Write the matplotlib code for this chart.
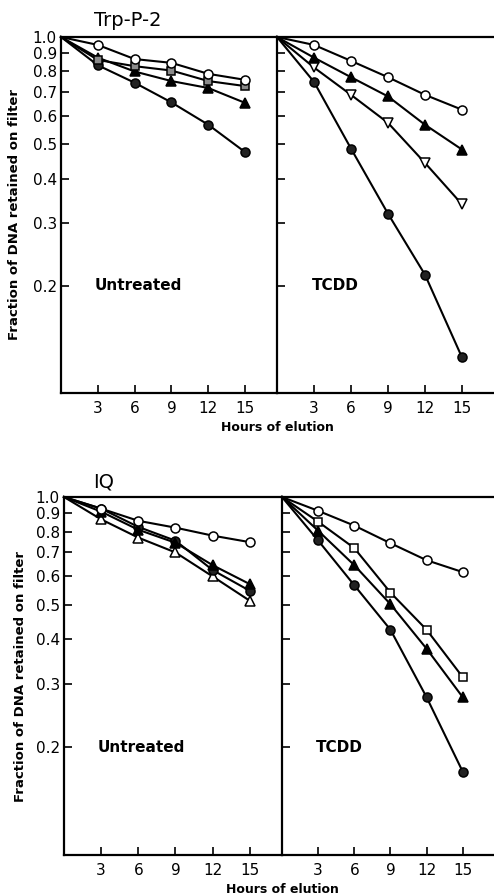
import matplotlib
matplotlib.use("Agg")
import matplotlib.pyplot as plt
from matplotlib.ticker import FixedLocator, NullLocator, NullFormatter

hours = [0, 3, 6, 9, 12, 15]
xtick_vals = [3, 6, 9, 12, 15]
ytick_vals = [1.0, 0.9, 0.8, 0.7, 0.6, 0.5, 0.4, 0.3, 0.2]
ytick_labels = ["1.0", "0.9", "0.8", "0.7", "0.6", "0.5", "0.4", "0.3", "0.2"]

trp_untreated_open_circle = [1.0, 0.95, 0.867, 0.846, 0.788, 0.758]
trp_untreated_shaded_square = [1.0, 0.862, 0.828, 0.805, 0.752, 0.728]
trp_untreated_filled_triangle = [1.0, 0.875, 0.80, 0.752, 0.719, 0.653]
trp_untreated_filled_circle = [1.0, 0.833, 0.744, 0.655, 0.567, 0.475]

trp_tcdd_open_circle = [1.0, 0.95, 0.857, 0.771, 0.688, 0.625]
trp_tcdd_filled_triangle = [1.0, 0.875, 0.771, 0.681, 0.567, 0.483]
trp_tcdd_open_down_triangle = [1.0, 0.821, 0.688, 0.574, 0.443, 0.339]
trp_tcdd_filled_circle = [1.0, 0.748, 0.486, 0.319, 0.215, 0.126]

iq_untreated_open_circle = [1.0, 0.928, 0.858, 0.821, 0.78, 0.748]
iq_untreated_filled_circle = [1.0, 0.928, 0.825, 0.755, 0.625, 0.547]
iq_untreated_filled_triangle = [1.0, 0.91, 0.81, 0.745, 0.645, 0.571]
iq_untreated_open_triangle = [1.0, 0.866, 0.77, 0.70, 0.60, 0.513]

iq_tcdd_open_circle = [1.0, 0.915, 0.832, 0.743, 0.666, 0.617]
iq_tcdd_open_square = [1.0, 0.853, 0.72, 0.541, 0.426, 0.314]
iq_tcdd_filled_triangle = [1.0, 0.805, 0.645, 0.502, 0.377, 0.276]
iq_tcdd_filled_circle = [1.0, 0.756, 0.567, 0.426, 0.276, 0.171]

TICK_FONT = ["Liberation Sans Narrow", "DejaVu Sans"]

W, H = 494, 896
fig = plt.figure(figsize=(W / 100, H / 100), dpi=100)

def px_axes(x0, x1, ytop, ybot):
    return fig.add_axes([x0 / W, (H - ybot) / H, (x1 - x0) / W, (ybot - ytop) / H])

styles = {
    "open_circle": dict(marker="o", mfc="white", mec="black", ms=6.5),
    "filled_circle": dict(marker="o", mfc="#222222", mec="black", ms=6.5),
    "shaded_square": dict(marker="s", mfc="#8a8a8a", mec="black", ms=6),
    "open_square": dict(marker="s", mfc="white", mec="black", ms=6),
    "filled_triangle": dict(marker="^", mfc="black", mec="black", ms=7.5),
    "open_triangle": dict(marker="^", mfc="white", mec="black", ms=7.5),
    "open_down_triangle": dict(marker="v", mfc="white", mec="black", ms=7.5),
}

def setup(ax, left_panel):
    ax.set_yscale("log")
    ax.set_ylim(0.1, 1.0)
    ax.set_xlim(0, 17.6)
    ax.spines["right"].set_visible(False)
    for s in ["left", "top", "bottom"]:
        ax.spines[s].set_linewidth(1.6)
    ax.yaxis.set_major_locator(FixedLocator(ytick_vals))
    ax.yaxis.set_minor_locator(NullLocator())
    ax.yaxis.set_minor_formatter(NullFormatter())
    if left_panel:
        ax.set_yticklabels(ytick_labels)
    else:
        ax.set_yticklabels([])
    ax.set_xticks(xtick_vals)
    ax.set_xticklabels([str(v) for v in xtick_vals])
    ax.tick_params(axis="both", direction="in", length=6, width=1.2, pad=3)
    ax.tick_params(axis="x", pad=6)
    for lab in ax.get_xticklabels() + ax.get_yticklabels():
        lab.set_family(TICK_FONT)
        lab.set_fontsize(11)

def plot_series(ax, y, style):
    ax.plot(hours, y, color="black", lw=1.5, mew=1.1, markevery=slice(1, None),
            clip_on=False, zorder=3, **styles[style])

# Top panels (Trp-P-2)
ax1 = px_axes(61, 277, 37, 393)
ax2 = px_axes(277, 494, 37, 393)
# Bottom panels (IQ)
ax3 = px_axes(64, 282, 497, 855)
ax4 = px_axes(282, 494, 497, 855)

for ax, lp in [(ax1, True), (ax2, False), (ax3, True), (ax4, False)]:
    setup(ax, lp)

plot_series(ax1, trp_untreated_filled_circle, "filled_circle")
plot_series(ax1, trp_untreated_filled_triangle, "filled_triangle")
plot_series(ax1, trp_untreated_shaded_square, "shaded_square")
plot_series(ax1, trp_untreated_open_circle, "open_circle")

plot_series(ax2, trp_tcdd_filled_circle, "filled_circle")
plot_series(ax2, trp_tcdd_open_down_triangle, "open_down_triangle")
plot_series(ax2, trp_tcdd_filled_triangle, "filled_triangle")
plot_series(ax2, trp_tcdd_open_circle, "open_circle")

plot_series(ax3, iq_untreated_open_triangle, "open_triangle")
plot_series(ax3, iq_untreated_filled_circle, "filled_circle")
plot_series(ax3, iq_untreated_filled_triangle, "filled_triangle")
plot_series(ax3, iq_untreated_open_circle, "open_circle")

plot_series(ax4, iq_tcdd_filled_circle, "filled_circle")
plot_series(ax4, iq_tcdd_filled_triangle, "filled_triangle")
plot_series(ax4, iq_tcdd_open_square, "open_square")
plot_series(ax4, iq_tcdd_open_circle, "open_circle")

for ax in (ax1, ax3):
    ax.text(2.7, 0.2, "Untreated", fontsize=11, fontweight="bold", ha="left", va="center")
for ax in (ax2, ax4):
    ax.text(2.8, 0.2, "TCDD", fontsize=11, fontweight="bold", ha="left", va="center")

fig.text(128 / W, (H - 20) / H, "Trp-P-2", fontsize=14, ha="center", va="center")
fig.text(104 / W, (H - 482) / H, "IQ", fontsize=14, ha="center", va="center")

ylab = "Fraction of DNA retained on filter"
fig.text(15 / W, (H - 215) / H, ylab, rotation=90, fontsize=9.5, fontweight="bold",
         ha="center", va="center")
fig.text(21 / W, (H - 676) / H, ylab, rotation=90, fontsize=9.5, fontweight="bold",
         ha="center", va="center")

fig.text(277 / W, (H - 427) / H, "Hours of elution", fontsize=9, fontweight="bold",
         ha="center", va="center")
fig.text(282 / W, (H - 889) / H, "Hours of elution", fontsize=9, fontweight="bold",
         ha="center", va="center")

fig.savefig("out.png", dpi=100)
